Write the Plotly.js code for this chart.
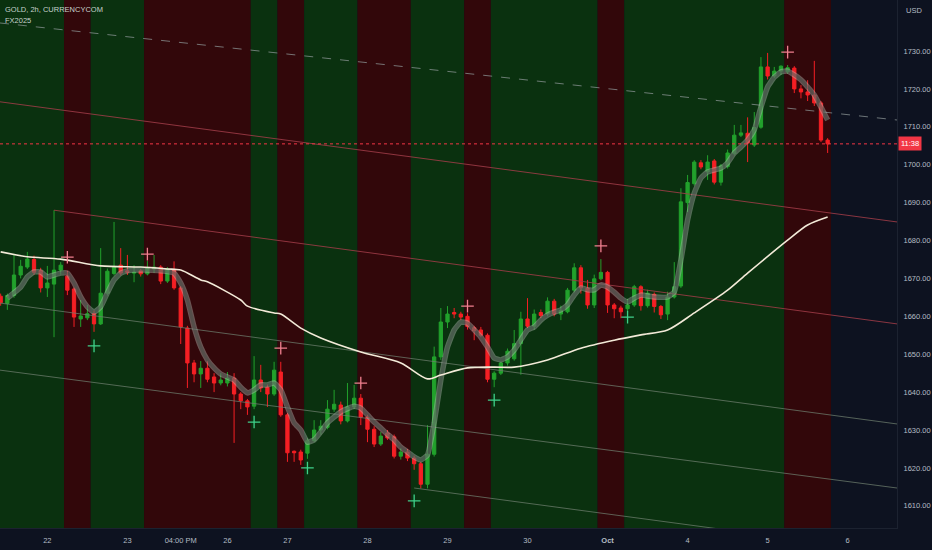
<!DOCTYPE html>
<html><head><meta charset="utf-8">
<script src="https://cdn.plot.ly/plotly-3.0.1.min.js"></script>
<style>html,body{margin:0;padding:0;background:#0d1220;}#chart{width:932px;height:550px;}</style>
</head><body><div id="chart"></div>
<script>
// ---- OHLC (2h bars, index 0..124) ----
const openP = [1665.3,1663.4,1665.5,1670.9,1673.0,1675.0,1672.0,1667.5,1668.5,1672.2, 1670.6,1667.2,1659.3,1659.6,1660.7,1658.0,1666.1,1671.3,1673.5,1672.0, 1671.4,1672.0,1671.2,1672.5,1673.0,1669.3,1672.2,1667.5,1656.9,1647.7, 1644.8,1646.3,1644.0,1642.4,1642.4,1643.7,1639.5,1637.7,1636.3,1643.2, 1641.3,1639.5,1645.3,1634.0,1624.4,1624.2,1623.9,1627.2,1630.0,1630.7, 1635.5,1636.6,1632.4,1636.1,1638.4,1633.4,1630.2,1626.3,1629.2,1628.2, 1623.1,1624.2,1622.6,1621.1,1615.7,1623.6,1649.3,1658.5,1661.0,1660.6, 1660.0,1657.0,1656.4,1655.0,1643.4,1645.0,1647.7,1648.8,1652.8,1659.3, 1657.4,1661.0,1660.6,1664.0,1660.6,1661.2,1666.9,1672.8,1667.4,1663.0, 1669.9,1671.6,1663.0,1662.2,1662.0,1663.0,1667.8,1662.8,1665.8,1662.6, 1660.6,1665.1,1668.0,1690.0,1695.0,1700.5,1698.1,1701.0,1695.4,1699.5, 1703.0,1707.8,1708.3,1705.2,1709.9,1725.8,1723.4,1724.7,1724.5,1725.5, 1720.0,1719.2,1718.4,1716.3,1706.5];
const highP = [1666.0,1666.0,1676.2,1674.9,1677.0,1676.0,1672.8,1673.3,1688.0,1674.3, 1672.0,1667.6,1664.3,1663.0,1661.5,1678.0,1672.6,1684.9,1678.0,1676.2, 1673.5,1672.5,1674.6,1676.2,1673.5,1673.0,1674.5,1668.0,1657.5,1648.5, 1648.2,1648.2,1645.0,1645.0,1645.3,1645.0,1640.0,1638.2,1649.5,1647.2, 1642.0,1648.0,1648.0,1634.5,1624.6,1624.8,1627.8,1632.6,1632.6,1637.9, 1640.6,1637.5,1642.4,1641.9,1639.5,1634.0,1631.0,1629.5,1630.0,1628.8, 1625.2,1625.0,1623.2,1621.6,1631.3,1652.0,1662.2,1662.7,1662.2,1661.2, 1660.8,1657.5,1657.2,1655.5,1645.5,1648.0,1651.5,1656.4,1661.2,1664.8, 1661.8,1661.8,1665.0,1664.6,1662.8,1667.5,1674.0,1673.5,1669.6,1671.0, 1675.1,1672.0,1663.5,1662.8,1664.6,1668.3,1668.2,1667.0,1666.3,1663.0, 1666.5,1674.3,1693.8,1697.3,1701.2,1701.2,1702.5,1701.5,1700.2,1704.0, 1710.5,1710.5,1712.5,1713.9,1728.4,1729.5,1725.8,1726.2,1726.3,1726.0, 1721.0,1722.3,1727.4,1716.8,1707.0];
const lowP = [1662.8,1661.7,1664.9,1670.0,1672.5,1671.0,1666.3,1665.1,1654.5,1671.0, 1665.6,1657.2,1657.2,1659.0,1655.9,1657.7,1665.5,1670.8,1670.8,1670.9, 1669.0,1670.5,1670.8,1671.5,1668.5,1668.8,1667.0,1652.7,1641.1,1642.6, 1641.1,1642.6,1640.0,1641.8,1641.5,1626.6,1635.5,1634.0,1635.5,1640.0, 1636.1,1639.0,1633.5,1621.6,1621.6,1620.8,1622.4,1626.8,1628.8,1630.2, 1634.8,1631.5,1632.0,1635.5,1631.3,1626.8,1625.5,1625.8,1627.4,1622.5, 1622.2,1621.8,1619.5,1614.6,1614.6,1623.0,1648.5,1656.9,1659.5,1659.0, 1656.5,1653.7,1654.5,1642.6,1641.3,1644.5,1647.0,1648.3,1644.6,1656.9, 1656.5,1659.5,1660.0,1660.0,1659.0,1660.8,1666.3,1666.0,1662.0,1662.2, 1669.5,1660.9,1659.5,1659.5,1661.0,1662.5,1661.5,1662.3,1661.0,1659.3, 1659.0,1664.7,1667.5,1687.5,1694.5,1698.8,1696.0,1694.8,1694.5,1699.0, 1702.5,1707.3,1700.7,1704.7,1709.5,1722.5,1722.9,1723.7,1724.0,1718.9, 1717.5,1716.8,1715.5,1706.0,1703.1];
const closeP = [1663.6,1665.5,1670.9,1673.2,1675.1,1671.6,1667.5,1668.8,1672.2,1673.5, 1666.9,1659.8,1660.1,1660.7,1658.0,1666.1,1671.9,1673.0,1671.4,1671.6, 1671.6,1671.2,1672.8,1673.0,1669.3,1672.5,1667.5,1657.2,1647.7,1644.8, 1646.3,1643.4,1642.4,1643.2,1643.7,1639.5,1637.7,1636.1,1643.2,1641.1, 1639.5,1645.8,1634.0,1624.0,1624.0,1622.1,1627.2,1630.0,1631.0,1635.5, 1636.8,1632.4,1636.1,1638.4,1633.4,1630.2,1626.3,1628.4,1627.9,1623.1, 1624.2,1622.6,1621.1,1615.7,1623.6,1649.3,1658.5,1660.6,1660.6,1659.8, 1657.3,1656.2,1655.0,1643.4,1645.0,1647.7,1650.8,1652.8,1659.3,1657.4, 1660.6,1660.2,1664.0,1660.6,1661.5,1666.9,1672.8,1667.5,1663.0,1669.9, 1671.6,1663.0,1662.0,1661.2,1663.0,1667.8,1662.8,1666.1,1662.6,1660.4, 1665.1,1667.8,1690.2,1695.3,1700.7,1699.4,1700.7,1695.4,1699.7,1703.1, 1707.8,1708.4,1705.7,1709.8,1725.8,1723.4,1724.7,1726.0,1725.6,1720.0, 1719.2,1718.4,1716.3,1706.5,1705.5];
const barIdx = openP.map((_, i) => i);

// ---- slow moving average (cream line) ----
const maIdx = [0,4,9,15,21,25,27,30,31,36,37,41,42,45,48,54,60,64,66,70,74,77,82,87,92,96,100,104,109,112,118,121,124];
const maVal = [1677.0,1675.7,1675.1,1673.3,1673.0,1672.5,1672.2,1669.6,1669.1,1664.3,1662.7,1660.9,1660.6,1656.9,1654.3,1650.6,1647.7,1643.5,1644.5,1646.4,1646.6,1646.6,1648.5,1651.6,1653.7,1655.1,1656.4,1660.9,1666.9,1671.4,1680.1,1684.1,1686.2];

// ---- fast ribbon (grey band) ----
const ribIdx = [1,3,4,5,6,7,8,9,10,11,12,13,14,15,16,17,18,19,20,22,24,26,27,28,29,30,31,32,33,34,35,36,37,38,39,40,41,42,43,44,45,46,47,48,49,51,53,54,55,56,57,58,59,60,61,62,63,64,65,66,67,68,69,70,71,72,73,74,75,76,77,78,79,80,81,82,83,84,85,86,87,88,89,90,91,92,93,94,95,96,98,100,101,102,103,104,105,106,107,108,109,110,111,112,113,114,115,116,117,118,119,120,121,122,123,124];
const ribVal = [1664.8,1667.7,1670.4,1671.7,1671.7,1670.4,1670.9,1671.4,1671.4,1668.8, 1665.1,1662.5,1661.1,1662.5,1666.2,1669.6,1671.4,1672.0,1672.2, 1672.2,1672.0,1671.4, 1668.8,1664.3,1657.2,1651.9,1648.5,1646.4,1644.8,1644.0,1643.2,1641.3,1639.8,1640.6,1641.9,1641.9,1642.4,1640.6,1636.1,1631.9,1630.0,1626.8,1627.4,1629.5,1631.9, 1634.8,1636.3, 1635.8,1634.0,1632.1,1630.5,1628.9,1627.4,1625.5,1624.2,1622.9,1622.1, 1623.4,1631.9,1643.2,1651.9,1656.4,1658.5,1658.2,1656.4,1654.5,1651.9, 1649.0,1648.5,1649.3,1651.1,1653.8,1656.4,1657.2,1659.0,1660.3,1661.1, 1661.7,1663.0,1665.6,1667.5,1667.0,1667.0,1668.3,1667.7,1666.4,1664.8, 1663.8,1664.8,1665.6, 1665.1, 1665.1,1666.4,1674.9,1685.4,1692.5,1696.5,1698.1,1698.6,1699.1,1700.5,1703.1,1704.7,1706.5,1709.2,1715.2,1720.5,1723.1,1724.5,1724.7,1723.7,1722.4,1720.5,1718.4,1715.2,1711.8];

// ---- signal markers ----
const sellIdx = [10,22,42,54,70,90,118];
const sellPrice = [1675.6,1676.4,1651.6,1642.4,1662.7,1678.6,1729.7];
const buyIdx = [14,38,46,62,74,94];
const buyPrice = [1652.2,1632.1,1620.0,1611.3,1637.9,1659.8];

// ---- channel lines: [x0, p0, x1, p1] ----
const chanX0 = [-0.1, -0.1, 8, -0.1, -0.1, 62];
const chanP0 = [1737.4, 1716.6, 1688.0, 1663.5, 1645.8, 1614.7];
const chanX1 = [134.4, 134.4, 134.4, 134.4, 134.4, 134.4];
const chanP1 = [1711.8, 1684.9, 1658.0, 1631.6, 1614.7, 1597.6];
const chanKind = ['dash','red','red','grey','grey','grey'];

// ---- session background bands ----
const bandStart = [-0.5, 9.5, 13.5, 21.5, 37.5, 41.5, 45.5, 53.5, 61.5, 69.5, 73.5, 89.5, 93.5, 117.5];
const bandEnd   = [9.5, 13.5, 21.5, 37.5, 41.5, 45.5, 53.5, 61.5, 69.5, 73.5, 89.5, 93.5, 117.5, 124.5];
const bandKind  = ['g','r','g','r','g','r','g','r','g','r','g','r','g','r'];

// ---- axes ----
const xTickIdx = [7,19,27,34,43,55,67,79,91,103,115,127];
const xTickText = ['22','23','04:00 PM','26','27','28','29','30','<b>Oct</b>','4','5','6'];
const yTickVals = [1610,1620,1630,1640,1650,1660,1670,1680,1690,1700,1710,1720,1730];
const yTickText = ['1610.00','1620.00','1630.00','1640.00','1650.00','1660.00','1670.00','1680.00','1690.00','1700.00','1710.00','1720.00','1730.00'];

const lastPrice = 1705.5;
const countdown = '11:38';

const FONT = 'Liberation Sans, Arial, sans-serif';
const TXT = '#b4bcc4';
const chanStyle = {
  dash: {color: 'rgba(140,150,150,0.75)', dash: 'dash'},
  red:  {color: 'rgba(160,60,72,0.85)', dash: 'solid'},
  grey: {color: 'rgba(110,125,110,0.75)', dash: 'solid'}
};

const traces = [];
traces.push({
  type: 'candlestick', x: barIdx, open: openP, high: highP, low: lowP, close: closeP,
  increasing: {line: {color: '#22a12c', width: 1}, fillcolor: '#22a12c'},
  decreasing: {line: {color: '#f51f24', width: 1}, fillcolor: '#f51f24'},
  whiskerwidth: 0, hoverinfo: 'skip'
});
for (let k = 0; k < chanX0.length; k++) {
  const s = chanStyle[chanKind[k]];
  traces.push({type: 'scatter', mode: 'lines', x: [chanX0[k], chanX1[k]], y: [chanP0[k], chanP1[k]],
    line: {color: s.color, width: 1, dash: s.dash}, hoverinfo: 'skip'});
}
traces.push({type: 'scatter', mode: 'lines', x: ribIdx, y: ribVal,
  line: {color: 'rgba(185,190,185,0.42)', width: 5.5, shape: 'spline', smoothing: 0.4}, hoverinfo: 'skip'});
traces.push({type: 'scatter', mode: 'lines', x: ribIdx, y: ribVal,
  line: {color: 'rgba(60,70,65,0.45)', width: 3.2, shape: 'spline', smoothing: 0.4}, hoverinfo: 'skip'});
traces.push({type: 'scatter', mode: 'lines', x: maIdx, y: maVal,
  line: {color: '#f3ead8', width: 1.6, shape: 'spline', smoothing: 0.8}, hoverinfo: 'skip'});
traces.push({type: 'scatter', mode: 'markers', x: sellIdx, y: sellPrice,
  marker: {symbol: 'cross-thin', size: 9, line: {color: '#f0808f', width: 1.3}}, hoverinfo: 'skip'});
traces.push({type: 'scatter', mode: 'markers', x: buyIdx, y: buyPrice,
  marker: {symbol: 'cross-thin', size: 9, line: {color: '#3fd08a', width: 1.3}}, hoverinfo: 'skip'});

const shapes = bandStart.map((s, k) => ({
  type: 'rect', xref: 'x', yref: 'paper', x0: s, x1: bandEnd[k], y0: 0, y1: 1,
  fillcolor: bandKind[k] === 'g' ? '#0a310f' : '#32070a', line: {width: 0}, layer: 'below'
}));
shapes.push({type: 'line', xref: 'paper', yref: 'y', x0: 0, x1: 1, y0: lastPrice, y1: lastPrice,
  line: {color: '#f23645', width: 1, dash: 'dot'}});

const layout = {
  width: 932, height: 550,
  margin: {l: 0, r: 35, t: 0, b: 22, pad: 0},
  paper_bgcolor: '#0d1220', plot_bgcolor: '#0d1220',
  showlegend: false, hovermode: false,
  font: {family: FONT, color: TXT, size: 8},
  xaxis: {range: [-0.1, 134.4], tickvals: xTickIdx, ticktext: xTickText, showgrid: false, zeroline: false,
    rangeslider: {visible: false}, ticks: 'outside', ticklen: 5, tickcolor: 'rgba(0,0,0,0)',
    tickfont: {size: 7.5, color: TXT, family: FONT}, showline: true, linecolor: '#1c2230', linewidth: 1, fixedrange: true},
  yaxis: {side: 'right', range: [1604.15, 1743.46], tickvals: yTickVals, ticktext: yTickText,
    showgrid: false, zeroline: false, ticks: 'outside', ticklen: 4, tickcolor: 'rgba(0,0,0,0)',
    tickfont: {size: 7.5, color: TXT, family: FONT}, showline: true, linecolor: '#1c2230', linewidth: 1, fixedrange: true},
  shapes: shapes,
  annotations: [
    {xref: 'paper', yref: 'paper', x: 0, y: 1, xanchor: 'left', yanchor: 'top', xshift: 3, yshift: -3,
     text: 'GOLD, 2h, CURRENCYCOM', showarrow: false, font: {size: 7.5, color: '#c6d2cc', family: FONT}},
    {xref: 'paper', yref: 'paper', x: 0, y: 1, xanchor: 'left', yanchor: 'top', xshift: 3, yshift: -14,
     text: 'FX2025', showarrow: false, font: {size: 7.5, color: '#c6d2cc', family: FONT}},
    {xref: 'paper', yref: 'paper', x: 1, y: 1, xanchor: 'left', yanchor: 'top', xshift: 7, yshift: -4,
     text: 'USD', showarrow: false, font: {size: 7.5, color: TXT, family: FONT}},
    {xref: 'paper', yref: 'y', x: 1, y: lastPrice, xanchor: 'left', yanchor: 'middle', xshift: 1,
     text: countdown, showarrow: false, bgcolor: '#f23645', borderpad: 2,
     font: {size: 7.5, color: '#ffffff', family: FONT}}
  ]
};

Plotly.newPlot('chart', traces, layout, {displayModeBar: false, staticPlot: true});
</script>
</body></html>
